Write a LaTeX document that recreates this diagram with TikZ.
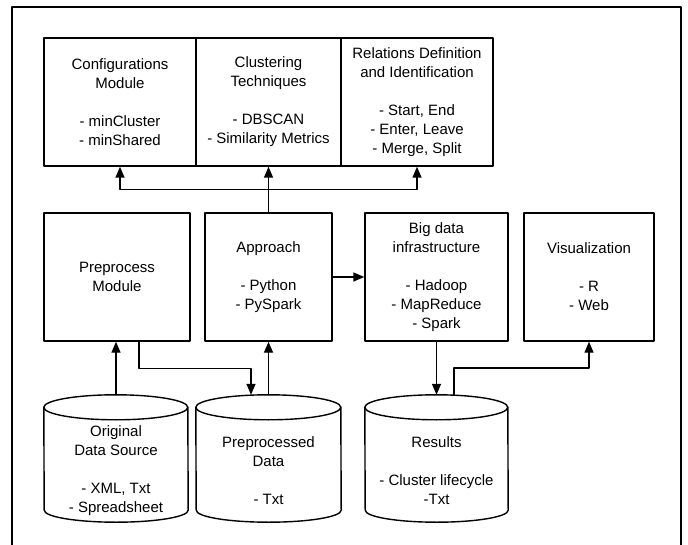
\documentclass[tikz,border=0pt]{standalone}
\usepackage{fontspec}
\setmainfont{Liberation Sans}
\usetikzlibrary{arrows.meta}

\tikzset{
  box/.style={draw, line width=1.4pt, inner sep=0pt, align=center, minimum height=128pt},
  store/.style={inner sep=0pt, align=center, minimum height=102pt},
}
% cylinder outline round a store node
\newcommand{\drum}[1]{%
  \draw [line width=1.4pt] ([yshift=12.5pt]#1.north west) arc (180:0:0.5*\pgfkeysvalueof{/pgf/minimum width} and 12.5pt)
    -- ([yshift=12pt]#1.south east) arc (0:-180:0.5*\pgfkeysvalueof{/pgf/minimum width} and 12pt) -- cycle;
  \draw [line width=1.4pt] ([yshift=12.5pt]#1.north west) arc (180:360:0.5*\pgfkeysvalueof{/pgf/minimum width} and 12.5pt);
  \coordinate (#1-top) at ([yshift=25pt]#1.north);
}

\begin{document}
\begin{tikzpicture}[line cap=round,line join=round,>={Triangle[length=11pt,width=9pt]},x=1pt,y=1pt,
  font=\fontsize{15}{19}\selectfont]
\path [use as bounding box] (0,0) rectangle (688,-545);
\clip (0,0) rectangle (688,-545);
\draw [line width=1.6pt] (12,-7) rectangle (681,-560);

\node [box, minimum width=152pt] (conf) at (120,-102) {Configurations\\Module\\[19pt]- minCluster\\- minShared};
\node [box, minimum width=145pt] (clust) at (268.5,-102) {Clustering\\Techniques\\[19pt]- DBSCAN\\- Similarity Metrics};
\node [box, minimum width=152pt] (rel) at (417,-102) {Relations Definition\\and Identification\\[19pt]- Start, End\\- Enter, Leave\\- Merge, Split};

\node [box, minimum width=146pt] (prep) at (117,-277) {Preprocess\\Module};
\node [box, minimum width=127pt] (appr) at (268.5,-277) {Approach\\[19pt]- Python\\- PySpark};
\node [box, minimum width=143pt] (bigdata) at (436.5,-277) {Big data\\infrastructure\\[19pt]- Hadoop\\- MapReduce\\- Spark};
\node [box, minimum width=130pt] (vis) at (589,-277) {Visualization\\[19pt]- R\\- Web};

\begin{scope}[minimum width=144pt]
\node [store] (orig) at (116,-471) {Original\\Data Source\\[19pt]- XML, Txt\\- Spreadsheet};
\drum{orig}
\end{scope}
\begin{scope}[minimum width=145pt]
\node [store] (prepdata) at (268.5,-471) {Preprocessed\\Data\\[19pt]- Txt};
\drum{prepdata}
\end{scope}
\begin{scope}[minimum width=143pt]
\node [store] (results) at (436.5,-471) {Results\\[19pt]- Cluster lifecycle\\-Txt};
\drum{results}
\end{scope}

\begin{scope}[line width=1.4pt]
\draw (appr.north) -- ++(0,23) coordinate (split);
\draw [->] (split) -| (conf.south);
\draw [->] (split) -- (clust.south);
\draw [->] (split) -| (rel.south);
\draw [->] (orig-top) -- (orig-top |- prep.south);
\draw [->] ([xshift=22pt]prep.south) -- ++(0,-27) -| ([xshift=-17.5pt]prepdata-top);
\draw [->] (prepdata-top) -- (appr.south);
\draw [->] (appr.east) -- (bigdata.west);
\draw [->] (bigdata.south) -- (results-top);
\draw [->] ([xshift=17.5pt]results-top) -- ++(0,27) -| (vis.south);
\end{scope}
\end{tikzpicture}
\end{document}
